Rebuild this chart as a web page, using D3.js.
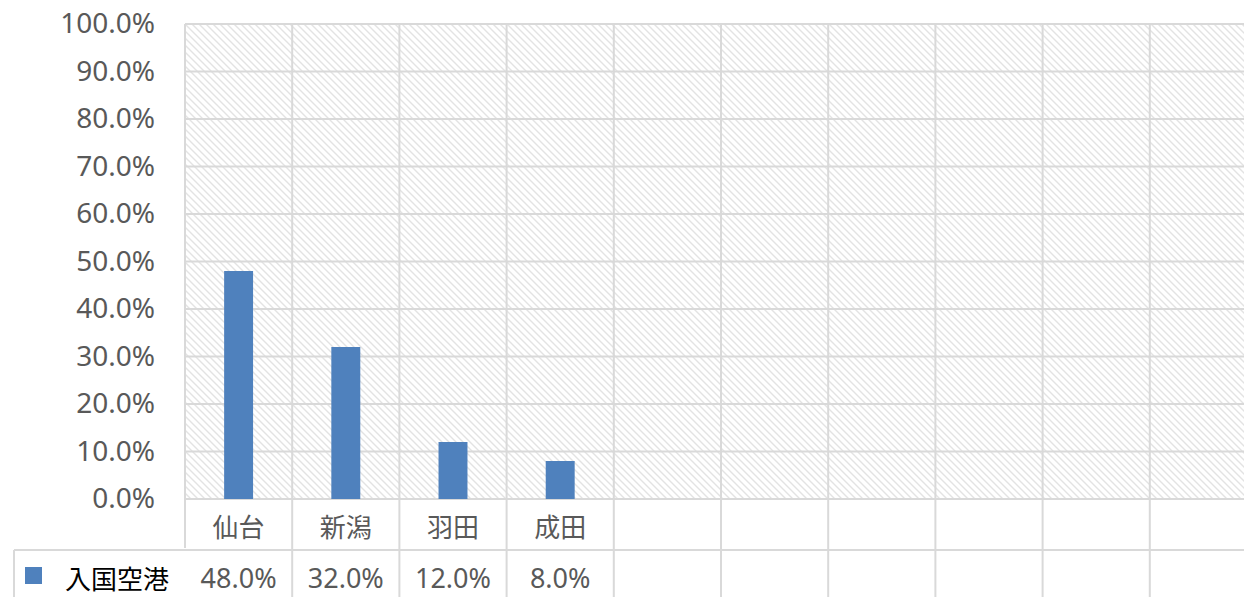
<!DOCTYPE html>
<html>
<head>
<meta charset="utf-8">
<script src="https://cdn.jsdelivr.net/npm/d3@7"></script>
<style>
  html, body { margin: 0; padding: 0; background: #fff; }
  svg { display: block; }
</style>
</head>
<body>
<svg id="chart" width="1244" height="597"></svg>
<script>
// Column slots of the chart; only the first four carry data.
const categories = ["仙台", "新潟", "羽田", "成田", "", "", "", "", "", ""];
const seriesName = "入国空港";
const seriesValues = [48.0, 32.0, 12.0, 8.0, null, null, null, null, null, null];
const yTicks = [0, 10, 20, 30, 40, 50, 60, 70, 80, 90, 100];

const W = 1244, H = 597;
const plot = { left: 185, top: 24, bottom: 499, colWidth: 107.2 };
const tableRow1 = 548;   // bottom of the category-name row
const legendLeft = 14;

const svg = d3.select("#chart");
const gridColor = "#d9d9d9";
const textColor = "#595959";
const barColor = "#4f81bd";
const latin = "'Noto Sans', 'Open Sans', sans-serif";
const cjk = "'Noto Sans CJK JP', 'Noto Sans', sans-serif";

// Diagonal hatch used for the plot background
const defs = svg.append("defs");
const pat = defs.append("pattern")
  .attr("id", "hatch")
  .attr("patternUnits", "userSpaceOnUse")
  .attr("width", 7).attr("height", 7);
pat.append("path")
  .attr("d", "M-1,-1 L8,8 M-1,6 L1,8 M6,-1 L8,1")
  .attr("stroke", "#e3e3e3")
  .attr("stroke-width", 1.4)
  .attr("fill", "none");

const x = d3.scaleBand()
  .domain(d3.range(categories.length))
  .range([plot.left, plot.left + plot.colWidth * categories.length])
  .paddingInner(0).paddingOuter(0);

const y = d3.scaleLinear().domain([0, 100]).range([plot.bottom, plot.top]);

// Plot background
svg.append("rect")
  .attr("x", x.range()[0]).attr("y", y(100))
  .attr("width", x.range()[1] - x.range()[0])
  .attr("height", y(0) - y(100))
  .attr("fill", "url(#hatch)");

// Horizontal gridlines + y axis labels
const yAxis = d3.axisLeft(y)
  .tickValues(yTicks)
  .tickSize(0)
  .tickPadding(30)
  .tickFormat(d => d3.format(".1f")(d) + "%");

const yg = svg.append("g")
  .attr("transform", `translate(${plot.left},0)`)
  .call(yAxis);
yg.select(".domain").remove();
yg.selectAll("text")
  .attr("fill", textColor)
  .style("font-family", latin)
  .style("font-size", "28px");

svg.append("g").selectAll("line")
  .data(yTicks)
  .join("line")
  .attr("x1", x.range()[0]).attr("x2", W + 20)
  .attr("y1", d => y(d)).attr("y2", d => y(d))
  .attr("stroke", gridColor).attr("stroke-width", 2);

// Vertical column separators (plot + data table)
const seps = d3.range(categories.length + 1).map(i => i === categories.length ? x.range()[1] : x(i));
svg.append("g").selectAll("line")
  .data(seps)
  .join("line")
  .attr("x1", d => d).attr("x2", d => d)
  .attr("y1", y(100))
  .attr("y2", (d, i) => i === 0 ? tableRow1 : H + 10)
  .attr("stroke", gridColor).attr("stroke-width", 2);

// Data table horizontal border between category row and value row
svg.append("line")
  .attr("x1", legendLeft).attr("x2", W + 20)
  .attr("y1", tableRow1 + 2).attr("y2", tableRow1 + 2)
  .attr("stroke", gridColor).attr("stroke-width", 2);
// Left border of legend cell
svg.append("line")
  .attr("x1", legendLeft).attr("x2", legendLeft)
  .attr("y1", tableRow1 + 2).attr("y2", H + 10)
  .attr("stroke", gridColor).attr("stroke-width", 2);

// Bars
const barW = x.bandwidth() * 0.27;
svg.append("g").selectAll("rect")
  .data(seriesValues.map((v, i) => ({ v, i })).filter(d => d.v != null))
  .join("rect")
  .attr("x", d => x(d.i) + x.bandwidth() / 2 - barW / 2)
  .attr("y", d => y(d.v))
  .attr("width", barW)
  .attr("height", d => y(0) - y(d.v))
  .attr("fill", barColor);

// Category names row
svg.append("g").selectAll("text")
  .data(categories)
  .join("text")
  .attr("x", (d, i) => x(i) + x.bandwidth() / 2)
  .attr("y", 525)
  .attr("text-anchor", "middle")
  .attr("dominant-baseline", "central")
  .attr("fill", textColor)
  .style("font-family", cjk)
  .style("font-size", "26px")
  .text(d => d);

// Value row
svg.append("g").selectAll("text")
  .data(seriesValues)
  .join("text")
  .attr("x", (d, i) => x(i) + x.bandwidth() / 2)
  .attr("y", 577)
  .attr("text-anchor", "middle")
  .attr("dominant-baseline", "central")
  .attr("fill", textColor)
  .style("font-family", latin)
  .style("font-size", "27px")
  .text(d => d == null ? "" : d3.format(".1f")(d) + "%");

// Legend key in the value row
svg.append("rect")
  .attr("x", 25).attr("y", 567)
  .attr("width", 17).attr("height", 17)
  .attr("fill", barColor);
svg.append("text")
  .attr("x", 65).attr("y", 577)
  .attr("dominant-baseline", "central")
  .attr("fill", "#000")
  .style("font-family", cjk)
  .style("font-size", "26px")
  .text(seriesName);
</script>
</body>
</html>
